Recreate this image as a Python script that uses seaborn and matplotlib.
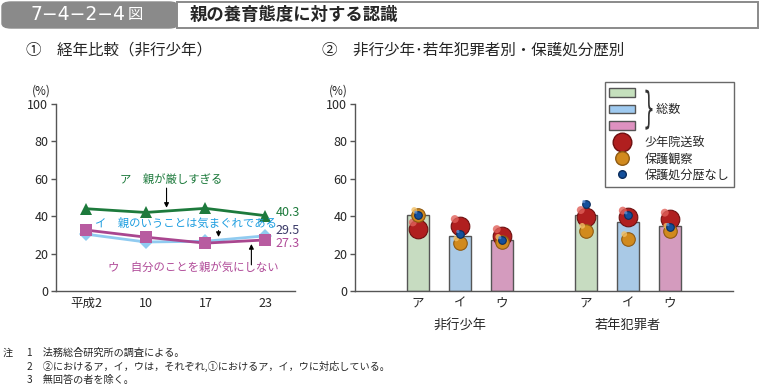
import pandas as pd
import matplotlib
matplotlib.use("Agg")
import matplotlib.pyplot as plt
import seaborn as sns
from matplotlib.patches import Rectangle, FancyBboxPatch, Patch, PathPatch
from matplotlib.lines import Line2D
from matplotlib.textpath import TextPath
from matplotlib.font_manager import FontProperties
from matplotlib.transforms import Affine2D, IdentityTransform, offset_copy

sns.set_style("ticks")
plt.rcParams['font.family'] = ['Noto Sans CJK JP', 'DejaVu Sans']

# --- dados ---
anos = ["平成2", "10", "17", "23"]
serie_a = [44.0, 42.0, 44.2, 40.3]   # ア 親が厳しすぎる
serie_i = [30.4, 26.2, 26.6, 29.5]   # イ 親のいうことは気まぐれである
serie_u = [32.6, 28.8, 25.6, 27.3]   # ウ 自分のことを親が気にしない

itens = ["ア", "イ", "ウ"]
grupos = ["非行少年", "若年犯罪者"]
total_hiko = [40.4, 29.4, 27.2]
total_jakunen = [40.4, 37.0, 34.9]
shonenin_hiko = [33.2, 35.0, 29.6]
shonenin_jakunen = [39.8, 39.5, 38.4]
hogo_hiko = [40.8, 25.6, 26.4]
hogo_jakunen = [32.3, 27.9, 32.3]
nashi_hiko = [40.7, 30.4, 27.1]
nashi_jakunen = [46.4, 40.4, 34.1]
tipos = ["少年院送致", "保護観察", "保護処分歴なし"]

W, H = 761, 392
fig = plt.figure(figsize=(W / 100, H / 100), dpi=100)

# --- cabeçalho ---
fig.add_artist(FancyBboxPatch((2 / W, (H - 28) / H), 176 / W, 26 / H,
                              boxstyle="round,pad=0,rounding_size=0.012",
                              transform=fig.transFigure, fc="#8a8a8a", ec="#8a8a8a", lw=1))
fig.add_artist(Rectangle((177 / W, (H - 28) / H), 581 / W, 26 / H,
                         transform=fig.transFigure, fc="white", ec="#8a8a8a", lw=1.4))
fig.text(30 / W, 1 - 15 / H, "7\u22124\u22122\u22124", color="white", fontsize=13.5,
         va="center", family="DejaVu Sans")
fig.text(128 / W, 1 - 15 / H, "図", color="white", fontsize=11, va="center")
fig.text(190 / W, 1 - 15 / H, "親の養育態度に対する認識", fontsize=12.5,
         fontweight="bold", va="center")

fig.text(26 / W, 1 - 50 / H, "①　経年比較（非行少年）", fontsize=11.2, va="center")
fig.text(322 / W, 1 - 50 / H, "②　非行少年･若年犯罪者別・保護処分歴別", fontsize=11.2, va="center")

# --- GRÁFICO 1: linhas ---
ax1 = fig.add_axes([56 / W, (H - 291) / H, (295 - 56) / W, (291 - 104) / H])
cores_linha = {"ア": "#1d7a3c", "イ": "#90cbf0", "ウ": "#a9468f"}
sns.lineplot(x=anos, y=serie_a, ax=ax1, color=cores_linha["ア"], marker="^",
             markersize=8.5, markeredgewidth=0, lw=2)
sns.lineplot(x=anos, y=serie_i, ax=ax1, color=cores_linha["イ"], marker="D",
             markersize=7, markeredgewidth=0, lw=2)
sns.lineplot(x=anos, y=serie_u, ax=ax1, color=cores_linha["ウ"], marker="s",
             markersize=8, markeredgewidth=0, lw=2, markerfacecolor="#b85ba0")
ax1.set_xlim(-0.5, 3.5)
ax1.set_ylim(0, 100)
ax1.set_yticks(range(0, 101, 20))

seta = dict(arrowstyle="-|>", color="black", lw=0.8, mutation_scale=7)
ax1.text(0.57, 59.5, "ア　親が厳しすぎる", color="#1d7a3c", fontsize=8.2, va="center")
ax1.annotate("", xy=(1.35, 43.0), xytext=(1.35, 56.5), arrowprops=seta)
ax1.text(0.15, 36.4, "イ　親のいうことは気まぐれである", color="#1e9ee0", fontsize=8.2, va="center")
ax1.annotate("", xy=(2.22, 27.4), xytext=(2.22, 33.8), arrowprops=seta)
ax1.text(0.37, 12.8, "ウ　自分のことを親が気にしない", color="#b04a98", fontsize=8.2, va="center")
ax1.annotate("", xy=(2.77, 26.6), xytext=(2.77, 12.5), arrowprops=seta)

ax1.text(3.18, 41.8, f"{serie_a[-1]:.1f}", color="#1d7a3c", fontsize=9, va="center")
ax1.text(3.18, 32.1, f"{serie_i[-1]:.1f}", color="#3a3a68", fontsize=9, va="center")
ax1.text(3.18, 25.2, f"{serie_u[-1]:.1f}", color="#b04a98", fontsize=9, va="center")

# --- GRÁFICO 2: barras + esferas ---
ax2 = fig.add_axes([355 / W, (H - 291) / H, (733 - 355) / W, (291 - 104) / H])

linhas_barra = []
linhas_bola = []
for g, grupo in enumerate(grupos):
    totais = [total_hiko, total_jakunen][g]
    for i, item in enumerate(itens):
        linhas_barra.append({"pos": g * 4 + i, "valor": totais[i], "item": item})
for t, tipo in enumerate(tipos):
    vals = [[shonenin_hiko, shonenin_jakunen],
            [hogo_hiko, hogo_jakunen],
            [nashi_hiko, nashi_jakunen]][t]
    for g in range(2):
        for i in range(3):
            linhas_bola.append({"pos": g * 4 + i, "valor": vals[g][i], "tipo": tipo})
df_barra = pd.DataFrame(linhas_barra)
df_bola = pd.DataFrame(linhas_bola)

cores_barra = {"ア": "#c5e0bd", "イ": "#9fcaf0", "ウ": "#de91c0"}
sns.barplot(data=df_barra, x="pos", y="valor", hue="item", palette=cores_barra,
            native_scale=True, dodge=False, width=0.52, edgecolor="#555555",
            linewidth=1, legend=False, ax=ax2)

cores_bola = {"少年院送致": "#b01f1f", "保護観察": "#d18a1e", "保護処分歴なし": "#14509c"}
bordas_bola = {"少年院送致": "#6e1010", "保護観察": "#8f5a12", "保護処分歴なし": "#0a2c5c"}
brilho_bola = {"少年院送致": "#e0615a", "保護観察": "#f2c066", "保護処分歴なし": "#5d90d6"}
tamanhos = {"少年院送致": 180, "保護観察": 95, "保護処分歴なし": 30}

# uma esfera por tipo, com um pequeno brilho por cima (efeito 3D)
for tipo in tipos:
    sub = df_bola[df_bola["tipo"] == tipo]
    sns.scatterplot(data=sub, x="pos", y="valor", color=cores_bola[tipo],
                    s=tamanhos[tipo], edgecolor=bordas_bola[tipo], linewidth=0.8,
                    legend=False, ax=ax2, zorder=5)
    sns.scatterplot(data=sub, x="pos", y="valor", color=brilho_bola[tipo],
                    s=tamanhos[tipo] * 0.18, edgecolor="none", alpha=0.8,
                    legend=False, ax=ax2, zorder=5)
    k = tamanhos[tipo] ** 0.5 * 0.35
    ax2.collections[-1].set_offset_transform(
        offset_copy(ax2.transData, fig=fig, x=-k * 0.8, y=k, units="points"))

ax2.set_xlim(-1.5, 7.5)
ax2.set_ylim(0, 100)
ax2.set_yticks(range(0, 101, 20))
ax2.set_xticks([g * 4 + i for g in range(2) for i in range(3)])
ax2.set_xticklabels(itens * 2)
for g, grupo in enumerate(grupos):
    ax2.text(g * 4 + 1, -0.185, grupo, transform=ax2.get_xaxis_transform(),
             ha="center", va="center", fontsize=9.5)

# legenda
handles = [Patch(fc=cores_barra[k], ec="#555555", lw=1) for k in itens]
handles += [Line2D([], [], ls="", marker="o", color=cores_bola[k],
                   markeredgecolor=bordas_bola[k], markersize=s ** 0.5)
            for k, s in tamanhos.items()]
rotulos = ["", "　総数", ""] + tipos
leg = ax2.legend(handles, rotulos, loc="upper right", bbox_to_anchor=(1.003, 1.118),
                 fontsize=8.7, frameon=True, fancybox=False, edgecolor="#444444",
                 handlelength=2.1, handleheight=0.75, labelspacing=0.28,
                 handletextpad=0.8, borderpad=0.4, borderaxespad=0)
leg.get_frame().set_linewidth(1)

for ax in (ax1, ax2):
    for lado in ("top", "right"):
        ax.spines[lado].set_visible(False)
    for lado in ("left", "bottom"):
        ax.spines[lado].set_color("#555555")
        ax.spines[lado].set_linewidth(1)
    ax.tick_params(axis="y", length=3.5, width=1, color="#555555", labelsize=9, pad=2)
    ax.tick_params(axis="x", length=0, labelsize=9, pad=4)
    ax.set_xlabel("")
    ax.set_ylabel("")
    ax.text(-0.02, 1.07, "(%)", transform=ax.transAxes, ha="right", va="center", fontsize=8.5)

# chave "}" ao lado das três caixas da legenda
fig.canvas.draw()
r = fig.canvas.get_renderer()
bb = leg.get_texts()[1].get_window_extent(r)
tp = TextPath((0, 0), "}", size=1, prop=FontProperties(family="DejaVu Sans"))
ext = tp.get_extents()
alt, larg = 40, 7
tr = (Affine2D().translate(-ext.x0, -ext.y0)
      .scale(larg / ext.width, alt / ext.height)
      .translate(bb.x0 + 1, (bb.y0 + bb.y1) / 2 - alt / 2))
fig.add_artist(PathPatch(tr.transform_path(tp), fc="#333333", ec="none",
                         transform=IdentityTransform()))

# notas
notas = ["1　法務総合研究所の調査による。",
         "2　②におけるア，イ，ウは，それぞれ,①におけるア，イ，ウに対応している。",
         "3　無回答の者を除く。"]
fig.text(3 / W, 1 - 353 / H, "注", fontsize=7.3, va="center")
for n, nota in enumerate(notas):
    fig.text(27 / W, 1 - (353 + 13.5 * n) / H, nota, fontsize=7.3, va="center")

fig.savefig("out.png", dpi=100)
